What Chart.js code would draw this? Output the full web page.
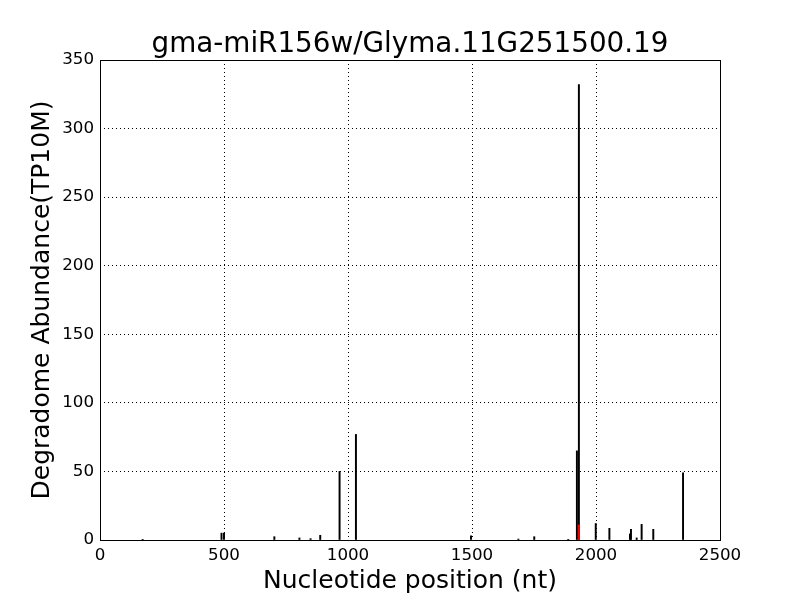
<!DOCTYPE html>
<html lang="en">
<head>
  <meta charset="UTF-8" />
  <title>gma-miR156w/Glyma.11G251500.19</title>
  <script src="https://cdn.jsdelivr.net/npm/chart.js"></script>
  <style>
    body { margin: 0; background: #fff; }
    .wrap { width: 800px; height: 600px; }
  </style>
</head>
<body>
  <div class="wrap"><canvas id="chart" width="800" height="600"></canvas></div>
  <script>
    // degradome reads (black)
    const positions = [172, 490, 500, 703, 804, 849, 888, 966, 1032, 1496, 1687, 1751, 1888,
                       1923, 1931, 1999, 2054, 2137, 2141, 2164, 2184, 2231, 2351];
    const abundance = [0.5, 5, 5, 2.4, 1.5, 1, 3.4, 50, 77, 3, 0.7, 2.4, 0.5,
                       65, 332, 12, 8.5, 4.4, 7.8, 1.5, 11.4, 7.8, 49];
    // cleavage site (red)
    const sitePositions = [1931];
    const siteAbundance = [11];
    const xTicks = [0, 500, 1000, 1500, 2000, 2500];
    const yTicks = [0, 50, 100, 150, 200, 250, 300, 350];
    const titleText = 'gma-miR156w/Glyma.11G251500.19';

    const font = 'DejaVu Sans';
    Chart.defaults.color = '#000';
    Chart.defaults.font.family = font;

    // full box around the plot + title centred over the axes, like matplotlib
    const frame = {
      id: 'frame',
      afterDraw(chart) {
        const a = chart.chartArea, ctx = chart.ctx;
        ctx.save();
        ctx.strokeStyle = '#000';
        ctx.lineWidth = 1;
        ctx.strokeRect(Math.round(a.left) + 0.5, Math.round(a.top) + 0.5,
                       Math.round(a.right - a.left), Math.round(a.bottom - a.top));
        ctx.fillStyle = '#000';
        ctx.font = '27.8px "' + font + '"';
        ctx.textAlign = 'center';
        ctx.textBaseline = 'alphabetic';
        ctx.fillText(titleText, (a.left + a.right) / 2, a.top - 8);
        ctx.restore();
      }
    };

    new Chart(document.getElementById('chart'), {
      type: 'bar',
      data: {
        datasets: [{
          label: 'site',
          data: sitePositions.map((x, i) => ({ x: x, y: siteAbundance[i] })),
          backgroundColor: '#ff0000',
          barThickness: 1.3,
          order: 0
        }, {
          label: 'reads',
          data: positions.map((x, i) => ({ x: x, y: abundance[i] })),
          backgroundColor: '#000000',
          barThickness: 1.3,
          order: 1
        }]
      },
      options: {
        responsive: false,
        animation: false,
        grouped: false,
        layout: { padding: { left: 0, right: 80, top: 60, bottom: 0 } },
        plugins: {
          legend: { display: false },
          tooltip: { enabled: false },
          title: { display: false }
        },
        scales: {
          x: {
            type: 'linear',
            min: 0, max: 2500,
            offset: false,
            afterBuildTicks: s => { s.ticks = xTicks.map(v => ({ value: v })); },
            afterFit: s => { s.height = 60; },
            ticks: { font: { size: 16.7 }, padding: 6, maxRotation: 0, callback: v => String(v) },
            grid: { offset: false, color: '#000', lineWidth: 1, drawTicks: false, borderDash: [1, 3] },
            border: { display: false, dash: [1, 3] },
            title: {
              display: true,
              text: 'Nucleotide position (nt)',
              font: { family: font, size: 25 },
              padding: { top: 0, bottom: 4 }
            }
          },
          y: {
            min: 0, max: 350,
            afterBuildTicks: s => { s.ticks = yTicks.map(v => ({ value: v })); },
            afterFit: s => { s.width = 100; },
            ticks: { font: { size: 16.7 }, padding: 6, callback: v => String(v) },
            grid: { color: '#000', lineWidth: 1, drawTicks: false, borderDash: [1, 3] },
            border: { display: false, dash: [1, 3] },
            title: {
              display: true,
              text: 'Degradome Abundance(TP10M)',
              font: { family: font, size: 25 },
              padding: { top: 27, bottom: 0 }
            }
          }
        }
      },
      plugins: [frame]
    });
  </script>
</body>
</html>
